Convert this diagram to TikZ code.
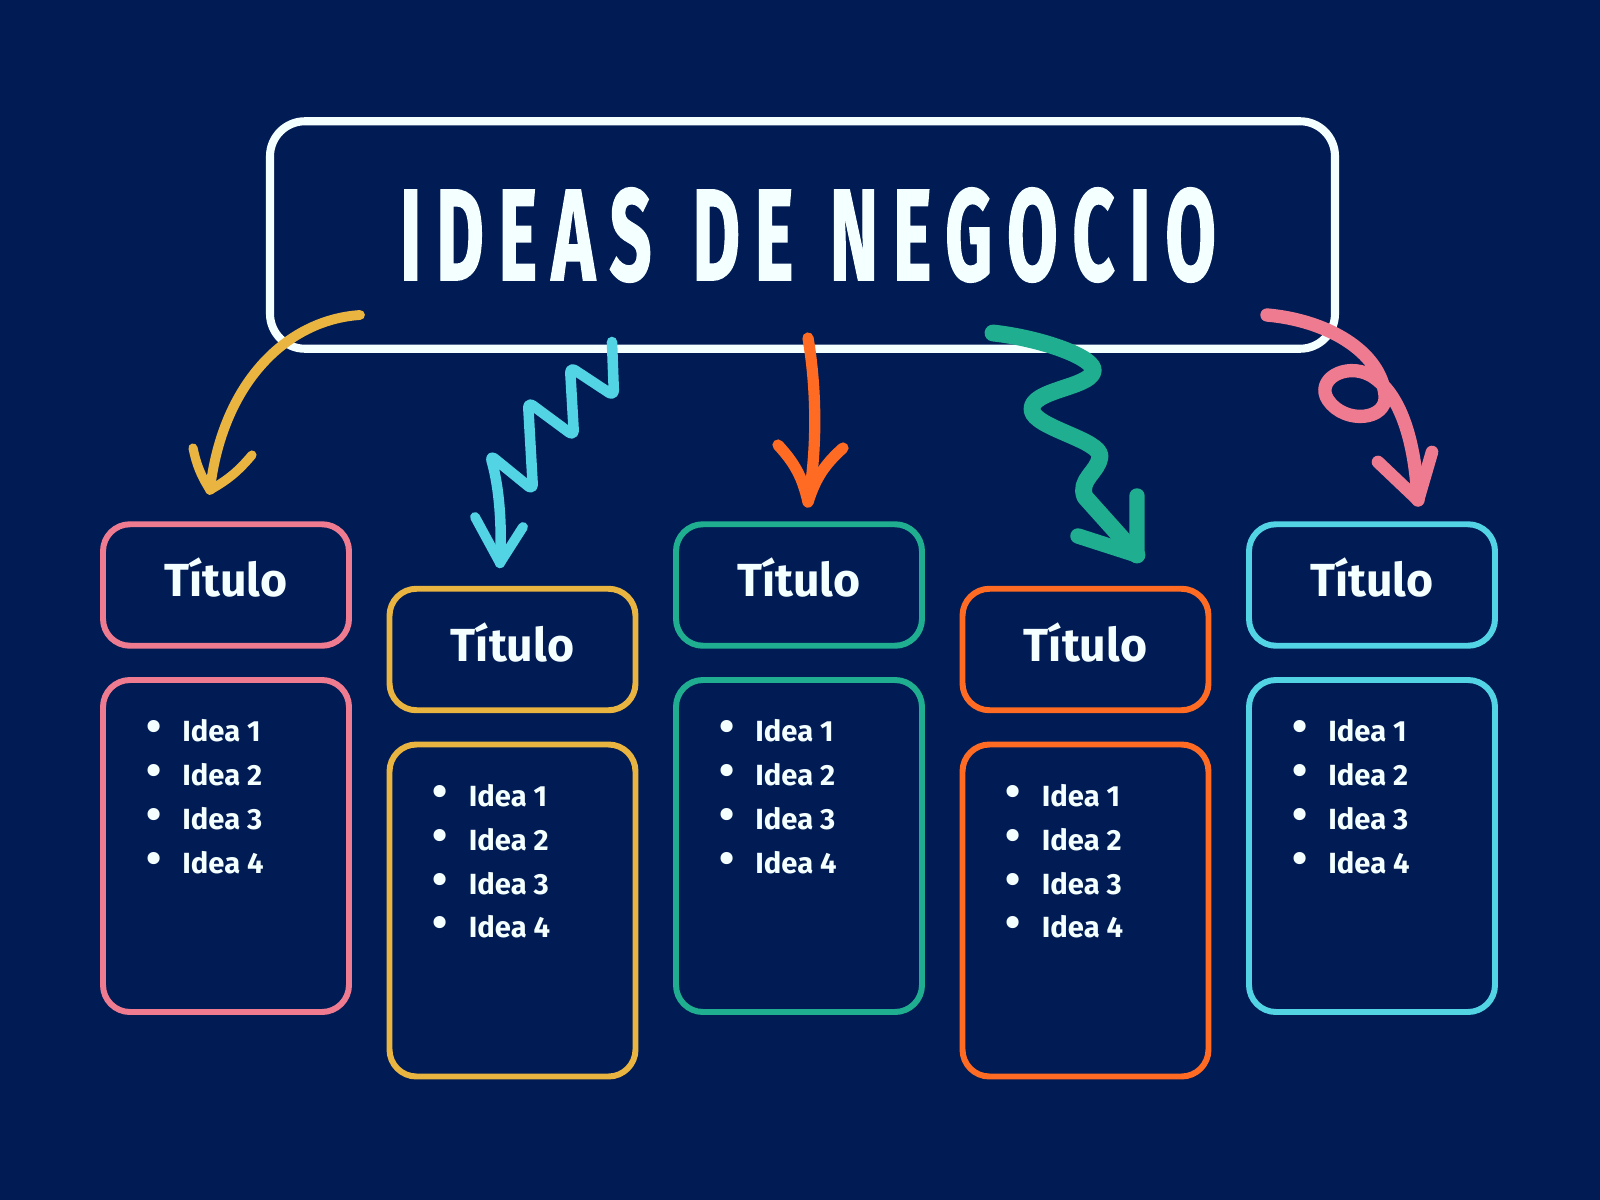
\documentclass[tikz,border=0pt]{standalone}
\usepackage{fontspec}
\usepackage{graphicx}
\setmainfont{Fira Sans}
\newfontfamily\headfont[LetterSpace=20, FakeBold=1.6]{Fira Sans}

\definecolor{navy}{HTML}{011C54}
\definecolor{chalk}{HTML}{F4FFFF}
\definecolor{tpink}{HTML}{EE7B90}
\definecolor{tyellow}{HTML}{E9B440}
\definecolor{tteal}{HTML}{1FAE90}
\definecolor{torange}{HTML}{FF6B22}
\definecolor{tcyan}{HTML}{52D4E4}

\begin{document}
\begin{tikzpicture}[x=0.1mm, y=-0.1mm]
		\def\colsep{286.5}
		\def\drop{64.5}
		\tikzstyle{headbox}=[draw=chalk, line width=2.3pt, rounded corners=3.5mm, minimum width=106.5mm, minimum height=22.75mm, inner sep=0, text=chalk]
		\tikzstyle{titlebox}=[line width=1.7pt, rounded corners=2.7mm, minimum width=24.6mm, minimum height=12.15mm, inner sep=0, text=chalk, font=\fontsize{13.2}{15}\selectfont\bfseries, text height=10pt, text depth=3.2pt]
		\tikzstyle{listbox}=[line width=1.7pt, rounded corners=2.7mm, minimum width=24.6mm, minimum height=33.2mm]
		\tikzstyle{idea}=[text=chalk, font=\fontsize{8.3}{10}\selectfont\bfseries, anchor=base west, inner sep=0]
		\tikzstyle{brush}=[line cap=round, line join=round]
		
		\fill[navy] (0,0) rectangle (1600,1200);
		
		\node[headbox](head) at (802.5,235) {\hspace*{1.1mm}\resizebox{81.6mm}{9.2mm}{\headfont\bfseries IDEAS\hspace{0.12em} DE\hspace{0.06em} NEGOCIO}};
		
		\foreach \i/\c/\dy in {1/tpink/0, 2/tyellow/1, 3/tteal/0, 4/torange/1, 5/tcyan/0}
		{
		\node[titlebox, draw=\c](t-\i) at ({226+(\i-1)*\colsep}, {585+\dy*\drop}) {Título};
		\node[listbox, draw=\c](l-\i) at ({226+(\i-1)*\colsep}, {846+\dy*\drop}) {};
		\foreach \k in {1,...,4}
		\node[idea](i-\i-\k) at ({124.3+(\i-1)*\colsep}, {741.7+(\k-1)*43.9+\dy*\drop}) {\makebox[5.74mm][c]{\scalebox{1.5}{\textbullet}}Idea \k};
		}
		
		% arrows from the heading
		\coordinate (ya-s) at (360,315);
		\coordinate (ya-e) at (210,490);
		\coordinate (ca-s) at (612,342);
		\coordinate (ca-e) at (500,563);
		\coordinate (oa-s) at (808,338);
		\coordinate (oa-e) at (808,502);
		\coordinate (ga-s) at (993,333);
		\coordinate (ga-e) at (1137,555);
		\coordinate (pa-s) at (1267,315);
		\coordinate (pa-e) at (1418,500);
		
		\draw[brush, tyellow, line width=2.8pt] (ya-s) .. controls (285,320) and (222,385) .. (ya-e);
		\draw[brush, tyellow, line width=2.6pt] (ya-e) to[bend left=10] ++(-17,-42) (ya-e) to[bend right=10] ++(42,-35);
		
		\draw[brush, tcyan, line width=3pt, rounded corners=0.6mm] (ca-s) -- (614,396) -- (570,367) -- (574,436) -- (528,402) -- (533,490) -- (490,455) .. controls (500,490) and (502,530) .. (ca-e);
		\draw[brush, tcyan, line width=2.8pt] (ca-e) -- ++(-25,-46) (ca-e) -- ++(23,-36);
		
		\draw[brush, torange, line width=3.2pt] (oa-s) .. controls (816,385) and (818,445) .. (oa-e);
		\draw[brush, torange, line width=3.2pt] (oa-e) to[bend right=15] ++(-30,-57) (oa-e) to[bend left=15] ++(35,-54);
		
		\draw[brush, tteal, line width=4.8pt] (ga-s) .. controls (1040,338) and (1098,358) .. (1093,372) .. controls (1088,388) and (1030,390) .. (1032,410) .. controls (1034,428) and (1102,440) .. (1100,457) .. controls (1098,472) and (1078,480) .. (1085,497) -- (ga-e);
		\draw[brush, tteal, line width=4.4pt] (ga-e) -- ++(0,-59) (ga-e) -- ++(-59,-19);
		
		\draw[brush, tpink, line width=3.8pt] (pa-s) .. controls (1325,320) and (1380,350) .. (1385,395) .. controls (1388,420) and (1345,425) .. (1328,400) .. controls (1315,380) and (1345,362) .. (1370,375) .. controls (1400,392) and (1415,440) .. (pa-e);
		\draw[brush, tpink, line width=3.6pt] (pa-e) -- ++(-40,-38) (pa-e) -- ++(14,-48);
		\end{tikzpicture}
\end{document}
